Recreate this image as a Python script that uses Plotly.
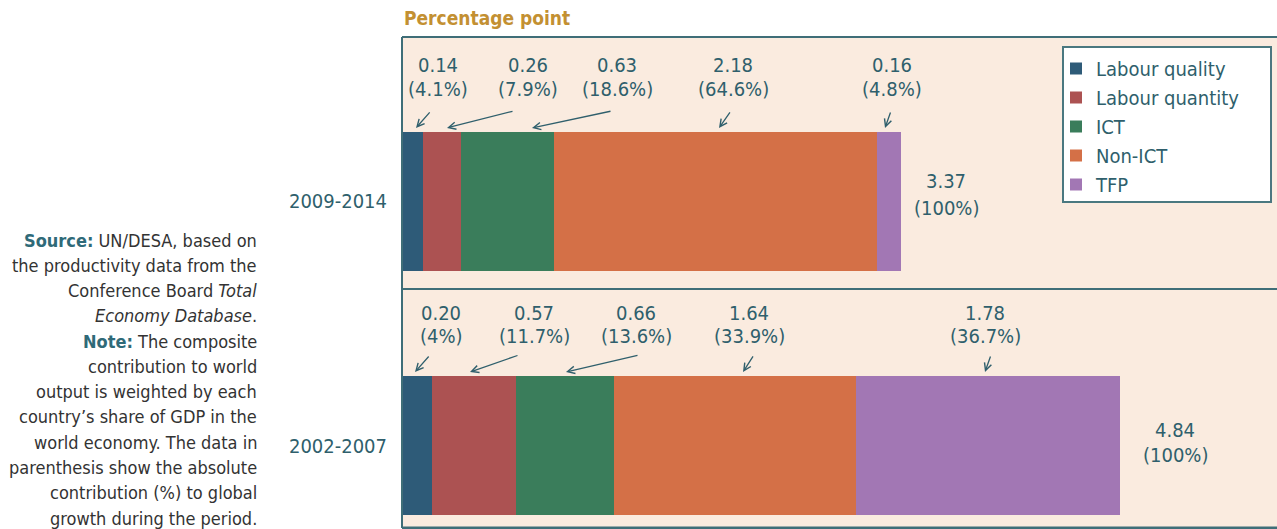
import plotly.graph_objects as go

# ---------------- data ----------------
periods = ["2009-2014", "2002-2007"]
components = ["Labour quality", "Labour quantity", "ICT", "Non-ICT", "TFP"]
values_2009_2014 = [0.14, 0.26, 0.63, 2.18, 0.16]
values_2002_2007 = [0.20, 0.57, 0.66, 1.64, 1.78]
share_2009_2014 = ["4.1%", "7.9%", "18.6%", "64.6%", "4.8%"]
share_2002_2007 = ["4%", "11.7%", "13.6%", "33.9%", "36.7%"]
totals = [3.37, 4.84]
total_shares = ["100%", "100%"]

colors = ["#2E5B78", "#AC5252", "#3A7D5B", "#D47047", "#A277B4"]
TEXT = "#2F5F6C"
BG = "#FAEBDF"
BORDER = "#3F6E78"
FONT = "DejaVu Sans Condensed, Open Sans, sans-serif"

W, H = 1277, 529
ML, MT, MR, MB = 402, 37, 0, 1
PW, PH = W - ML - MR, H - MT - MB
PX_PER_UNIT = 148.0
X_MAX = PW / PX_PER_UNIT
BAR_W = 0.57
Y_POS = [1, 0]
Y_RANGE = [-0.338, 1.674]


def px_x(px):
    return (px - ML) / PW


def px_y(py):
    return (H - MB - py) / PH


series = [values_2009_2014, values_2002_2007]
shares = [share_2009_2014, share_2002_2007]

fig = go.Figure()
for i, comp in enumerate(components):
    fig.add_trace(go.Bar(
        y=Y_POS, x=[series[0][i], series[1][i]], orientation="h",
        name=comp, marker=dict(color=colors[i], line=dict(width=0)),
        width=BAR_W, hoverinfo="skip",
    ))

annotations = []
# label layout (pixel positions of text centres and arrows)
label_cx = [[438, 528, 617, 733, 892], [441, 534, 636, 749, 985]]
value_py = [65, 313]
share_py = [89, 336]
arrow_head_px = [[416, 447, 532, 719, 885], [415, 470, 566, 743, 985]]
arrow_tail_px = [[431, 514, 612, 731, 891], [430, 519, 639, 754, 991]]
total_cx = [946, 1175]
total_py = [(181, 208), (430, 455)]
LBL = dict(family=FONT, size=20, color=TEXT)

for r in range(2):
    bar_top = Y_POS[r] + BAR_W / 2
    for i in range(5):
        annotations.append(dict(
            x=px_x(label_cx[r][i]), y=px_y(value_py[r]), xref="paper", yref="paper",
            xanchor="center", yanchor="middle", text=f"{series[r][i]:.2f}",
            showarrow=False, font=LBL,
        ))
        annotations.append(dict(
            x=px_x(label_cx[r][i]), y=px_y(share_py[r]), xref="paper", yref="paper",
            xanchor="center", yanchor="middle", text=f"({shares[r][i]})",
            showarrow=False, font=LBL,
        ))
        annotations.append(dict(
            x=(arrow_head_px[r][i] - ML) / PX_PER_UNIT, y=bar_top, xref="x", yref="y",
            yshift=4, text="", showarrow=True, arrowhead=5, arrowsize=1.1,
            arrowwidth=1.3, arrowcolor=TEXT,
            ax=arrow_tail_px[r][i] - arrow_head_px[r][i], ay=-17,
            standoff=0, startstandoff=0,
        ))
    annotations.append(dict(
        x=px_x(total_cx[r]), y=px_y(total_py[r][0]), xref="paper", yref="paper",
        xanchor="center", yanchor="middle", text=f"{totals[r]:.2f}",
        showarrow=False, font=LBL,
    ))
    annotations.append(dict(
        x=px_x(total_cx[r]), y=px_y(total_py[r][1]), xref="paper", yref="paper",
        xanchor="center", yanchor="middle", text=f"({total_shares[r]})",
        showarrow=False, font=LBL,
    ))

# title
annotations.append(dict(
    x=0, y=px_y(18), xref="paper", yref="paper", xanchor="left", yanchor="middle",
    text="<b>Percentage point</b>", showarrow=False,
    font=dict(family=FONT, size=19, color="#C39032"),
))

# side note
NOTE_C = "#2F6A78"
note_lines = [
    f"<b><span style='color:{NOTE_C}'>Source:</span></b> UN/DESA, based on",
    "the productivity data from the",
    "Conference Board <i>Total</i>",
    "<i>Economy Database</i>.",
    f"<b><span style='color:{NOTE_C}'>Note:</span></b> The composite",
    "contribution to world",
    "output is weighted by each",
    "country’s share of GDP in the",
    "world economy. The data in",
    "parenthesis show the absolute",
    "contribution (%) to global",
    "growth during the period.",
]
first_y, last_y = 240, 518
step = (last_y - first_y) / (len(note_lines) - 1)
for k, line in enumerate(note_lines):
    annotations.append(dict(
        x=px_x(259), y=px_y(first_y + k * step), xref="paper", yref="paper",
        xanchor="right", yanchor="middle", text=line, showarrow=False,
        align="right", font=dict(family=FONT, size=18, color="#333333"),
    ))

LEG_BORDER = "#4A7880"
shapes = [
    dict(type="line", xref="paper", yref="paper", x0=0, x1=1, y0=1, y1=1,
         line=dict(color=BORDER, width=2)),
    dict(type="line", xref="paper", yref="paper", x0=0, x1=1, y0=px_y(289), y1=px_y(289),
         line=dict(color=BORDER, width=2)),
    dict(type="line", xref="paper", yref="paper", x0=0, x1=1, y0=0, y1=0,
         line=dict(color=BORDER, width=3)),
    dict(type="line", xref="paper", yref="paper", x0=0, x1=0, y0=0, y1=1,
         line=dict(color=BORDER, width=2)),
    # legend frame
    dict(type="rect", xref="paper", yref="paper", x0=px_x(1063), x1=px_x(1271),
         y0=px_y(202), y1=px_y(47), fillcolor="white",
         line=dict(color=LEG_BORDER, width=2), layer="above"),
]

fig.update_layout(
    width=W, height=H, barmode="stack",
    margin=dict(l=ML, r=MR, t=MT, b=MB, pad=0),
    paper_bgcolor="white", plot_bgcolor=BG,
    xaxis=dict(range=[0, X_MAX], visible=False, fixedrange=True),
    yaxis=dict(range=Y_RANGE, tickvals=Y_POS, ticktext=periods, showgrid=False,
               zeroline=False, showline=False, ticks="", ticklabelstandoff=14,
               tickfont=dict(family=FONT, size=20, color=TEXT), fixedrange=True),
    legend=dict(x=px_x(1056), y=px_y(49), xanchor="left", yanchor="top",
                bgcolor="rgba(0,0,0,0)", borderwidth=0,
                traceorder="normal", font=dict(family=FONT, size=20, color=TEXT),
                itemclick=False, itemdoubleclick=False),
    annotations=annotations, shapes=shapes, showlegend=True,
)

fig.write_html(
    "out.html",
    config={"displayModeBar": False},
    post_script="document.body.style.margin='0';document.body.style.overflow='hidden';",
)
